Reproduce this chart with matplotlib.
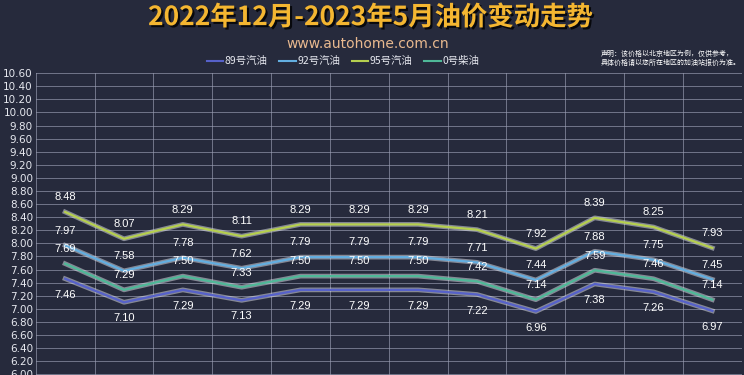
import matplotlib
matplotlib.use('Agg')
import matplotlib.pyplot as plt
import matplotlib.patheffects as pe
import numpy as np

plt.rcParams['font.family'] = ['Noto Sans CJK SC', 'DejaVu Sans']

months = ['1', '2', '3', '4', '5', '6', '7', '8', '9', '10', '11', '12']
p89 = [7.46, 7.10, 7.29, 7.13, 7.29, 7.29, 7.29, 7.22, 6.96, 7.38, 7.26, 6.97]
p92 = [7.97, 7.58, 7.78, 7.62, 7.79, 7.79, 7.79, 7.71, 7.44, 7.88, 7.75, 7.45]
p95 = [8.48, 8.07, 8.29, 8.11, 8.29, 8.29, 8.29, 8.21, 7.92, 8.39, 8.25, 7.93]
p0 = [7.69, 7.29, 7.50, 7.33, 7.50, 7.50, 7.50, 7.42, 7.14, 7.59, 7.46, 7.14]
names = ['89号汽油', '92号汽油', '95号汽油', '0号柴油']

bg = '#262a3c'
fig = plt.figure(figsize=(7.44, 3.75), dpi=100, facecolor=bg)
ax = fig.add_axes([0.048, 0.0, 0.949, 0.805], facecolor=bg)

x = np.arange(len(months))
series = [p89, p92, p95, p0]
colors = ['#5661c9', '#63aee0', '#b5cf4f', '#4fb898']
offs = [-8, 7, 7, 7]

for vals, name, c, off in zip(series, names, colors, offs):
    ax.plot(x, vals, color=c, lw=1.6, label=name,
            path_effects=[pe.Stroke(linewidth=3.4, foreground='#e4e6ee', alpha=0.5), pe.Normal()])
    for xi, v in zip(x, vals):
        ax.annotate(f'{v:.2f}', (xi, v), xytext=(0, off), textcoords='offset points',
                    ha='center', va='bottom' if off > 0 else 'top',
                    color='white', fontsize=8, family='Liberation Sans')

ax.set_xlim(-0.5, len(months) - 0.5)
ax.set_ylim(5.99, 10.6)
ax.set_yticks(np.arange(6.0, 10.61, 0.2))
ax.set_yticklabels([f'{t:.2f}' for t in np.arange(6.0, 10.61, 0.2)], family='DejaVu Sans')
ax.set_xticks(np.arange(-0.5, len(months), 1.0))
ax.set_xticklabels([])
ax.tick_params(length=0, colors='#e6e8ef', labelsize=7.5, pad=2)
ax.grid(True, color='#9a9eb4', lw=0.7, alpha=0.65)
for s in ax.spines.values():
    s.set_visible(False)

fig.text(0.498, 0.953, '2022年12月-2023年5月油价变动走势', ha='center', va='center',
         fontsize=19, fontweight='bold', color='#f4b631',
         path_effects=[pe.withSimplePatchShadow(offset=(1.5, -1.5), shadow_rgbFace='black', alpha=0.8)])
fig.text(0.494, 0.883, 'www.autohome.com.cn', ha='center', va='center',
         fontsize=10, color='#e9b98f', family='DejaVu Sans')
fig.text(0.808, 0.845, '声明：该价格以北京地区为例，仅供参考，\n具体价格请以您所在地区的加油站报价为准。',
         ha='left', va='center', fontsize=5, color='white', linespacing=1.2)

leg = ax.legend(loc='lower center', bbox_to_anchor=(0.435, 1.0), ncol=4, frameon=False,
                fontsize=7.5, handlelength=1.6, handletextpad=0.15, columnspacing=1.1,
                borderaxespad=0.25)
for t in leg.get_texts():
    t.set_color('#e6e8ef')
for h in leg.get_lines():
    h.set_path_effects([])
    h.set_linewidth(1.5)

fig.savefig('out.png', dpi=100, facecolor=bg)
